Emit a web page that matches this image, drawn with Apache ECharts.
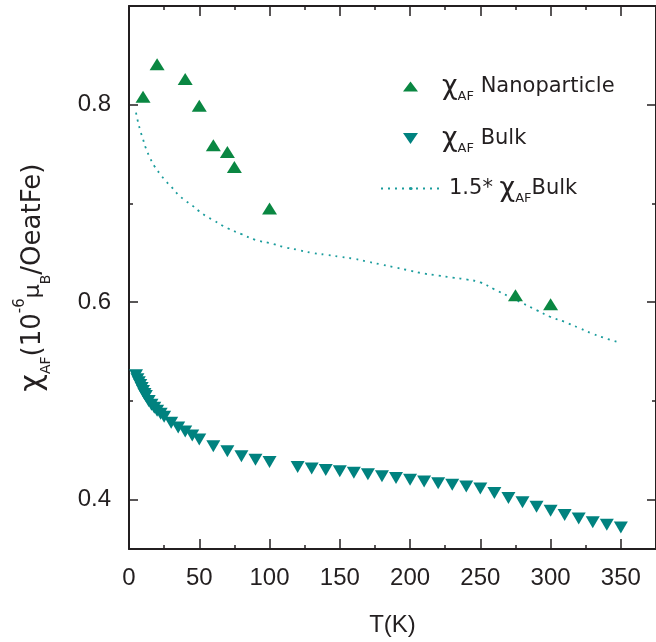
<!DOCTYPE html>
<html>
<head>
<meta charset="utf-8">
<script src="https://cdn.jsdelivr.net/npm/echarts@6/dist/echarts.min.js"></script>
<style>
    html, body { margin: 0; padding: 0; background: #fff; }
    #chiChart { width: 656px; height: 642px; }
</style>
</head>
<body>
<div id="chiChart"></div>
<script>
// 纳米颗粒 χAF
var nanoT = [10, 20, 40, 50, 60, 70, 75, 100, 275, 300];
var nanoChi = [0.808, 0.841, 0.826, 0.799, 0.759, 0.752, 0.737, 0.695, 0.607, 0.598];

// 块体 χAF
var bulkT = [5, 6, 7, 8, 9, 10, 11, 12, 14, 16, 18, 20, 22.5, 25, 30, 35, 40, 45, 50,
    60, 70, 80, 90, 100, 120, 130, 140, 150, 160, 170, 180, 190, 200, 210, 220, 230,
    240, 250, 260, 270, 280, 290, 300, 310, 320, 330, 340, 350];
var bulkChi = [0.526, 0.522, 0.519, 0.516, 0.513, 0.510, 0.507, 0.505, 0.500, 0.496, 0.493, 0.490, 0.487, 0.484, 0.478, 0.473, 0.469, 0.465, 0.461,
    0.454, 0.449, 0.444, 0.4405, 0.438, 0.433, 0.4315, 0.430, 0.4287, 0.4272, 0.4256, 0.4237, 0.422, 0.4202, 0.4183, 0.4166, 0.415,
    0.4133, 0.4114, 0.4068, 0.4017, 0.3973, 0.3929, 0.3887, 0.3845, 0.3808, 0.3771, 0.3745, 0.3717];

// 1.5* 块体 (虚线)
var scaledT = [5, 6, 8, 10, 12, 15, 18, 22, 26, 30, 35, 40, 45, 50, 55, 60, 70, 80, 90, 100,
    110, 120, 130, 140, 150, 160, 170, 180, 190, 200, 210, 220, 230, 240, 250, 260, 270,
    280, 290, 300, 310, 320, 330, 340, 350];
var scaledChi = [0.792, 0.785, 0.774, 0.765, 0.756, 0.746, 0.738, 0.730, 0.723, 0.717, 0.709, 0.703, 0.698, 0.692, 0.687, 0.683, 0.675, 0.669, 0.663, 0.660,
    0.656, 0.653, 0.650, 0.648, 0.646, 0.644, 0.641, 0.638, 0.635, 0.632, 0.629, 0.627, 0.625, 0.623, 0.620, 0.613, 0.606,
    0.599, 0.592, 0.585, 0.580, 0.574, 0.568, 0.563, 0.559];

// 刻度
var xMajorTicks = [0, 50, 100, 150, 200, 250, 300, 350];
var xMinorTicks = [25, 75, 125, 175, 225, 275, 325];
var yMajorTicks = [0.4, 0.6, 0.8];
var yMinorTicks = [0.5, 0.7];

var fontName = 'Liberation Sans, Arial, sans-serif';
var wideFont = 'DejaVu Sans, sans-serif';
var inkColor = '#231f20';

function zip(xs, ys) {
    var out = [];
    for (var i = 0; i < xs.length; i++) {
        out.push([xs[i], ys[i]]);
    }
    return out;
}

/**
 * 坐标轴 (主/次刻度分开画)
 */
function makeAxis(pos, minV, maxV, ticks, tickLen, withLabel, withLine) {
    return {
        type: 'value',
        position: pos,
        min: minV,
        max: maxV,
        axisLine: {
            show: withLine,
            onZero: false,
            lineStyle: { color: inkColor, width: 2 }
        },
        axisTick: {
            show: true,
            inside: true,
            length: tickLen,
            customValues: ticks,
            lineStyle: { color: inkColor, width: 1.5 }
        },
        axisLabel: {
            show: withLabel,
            customValues: ticks,
            color: inkColor,
            fontFamily: fontName,
            fontSize: 24
        },
        splitLine: { show: false }
    };
}

var chiChart = echarts.init(document.getElementById('chiChart'));

var xBottom = makeAxis('bottom', 0, 375, xMajorTicks, 10, true, true);
xBottom.axisLabel.margin = 17;
xBottom.axisLabel.formatter = function (v) { return String(v); };
xBottom.name = 'T(K)';
xBottom.nameLocation = 'middle';
xBottom.nameGap = 64;
xBottom.nameTextStyle = { color: inkColor, fontFamily: fontName, fontSize: 24 };

var yLeft = makeAxis('left', 0.35, 0.9, yMajorTicks, 9, true, true);
yLeft.axisLabel.margin = 18;
yLeft.axisLabel.formatter = function (v) { return v.toFixed(1); };
yLeft.name = '{c|χ}{s|AF}{m|(10}{p|-6}{u|μ}{s|B}{m|/OeatFe)}';
yLeft.nameLocation = 'middle';
yLeft.nameRotate = 90;
yLeft.nameGap = 76;
yLeft.nameTextStyle = {
    color: inkColor,
    fontFamily: wideFont,
    rich: {
        c: { fontSize: 30, fontFamily: wideFont, color: inkColor, lineHeight: 40 },
        m: { fontSize: 26, fontFamily: wideFont, color: inkColor, lineHeight: 40 },
        u: { fontSize: 22, fontFamily: wideFont, color: inkColor, lineHeight: 40 },
        s: { fontSize: 14, fontFamily: wideFont, color: inkColor, lineHeight: 14, verticalAlign: 'bottom' },
        p: { fontSize: 15, fontFamily: wideFont, color: inkColor, lineHeight: 15, verticalAlign: 'top' }
    }
};

var legendRich = {
    m: { fontSize: 21, fontFamily: wideFont, color: inkColor, lineHeight: 34 },
    c: { fontSize: 27, fontFamily: wideFont, color: inkColor, lineHeight: 34 },
    s: { fontSize: 13, fontFamily: wideFont, color: inkColor, lineHeight: 13, verticalAlign: 'bottom' }
};
var legendText = {
    nano: '{c|χ}{s|AF}{m| Nanoparticle}',
    bulk: '{c|χ}{s|AF}{m| Bulk}',
    scaled: '{m|1.5* }{c|χ}{s|AF}{m|Bulk}'
};

function makeLegend(name, left, top, w, h, textPad) {
    return {
        data: [name],
        left: left,
        top: top,
        padding: 0,
        itemWidth: w,
        itemHeight: h,
        symbolKeepAspect: false,
        selectedMode: false,
        formatter: function (n) { return legendText[n]; },
        textStyle: { padding: [0, 0, 0, textPad], rich: legendRich }
    };
}

var chiOption = {
    backgroundColor: '#fff',
    animation: false,
    grid: { left: 129, right: -3, top: 6, bottom: 90 },
    legend: [
        makeLegend('nano', 403, 73, 15, 10, 19),
        makeLegend('bulk', 403, 125, 15, 11, 19),
        makeLegend('scaled', 380, 175, 60, 4, 3)
    ],
    xAxis: [
        xBottom,
        makeAxis('bottom', 0, 375, xMinorTicks, 4, false, false),
        makeAxis('top', 0, 375, xMajorTicks, 10, false, true),
        makeAxis('top', 0, 375, xMinorTicks, 4, false, false)
    ],
    yAxis: [
        yLeft,
        makeAxis('left', 0.35, 0.9, yMinorTicks, 4, false, false),
        makeAxis('right', 0.35, 0.9, yMajorTicks, 9, false, true),
        makeAxis('right', 0.35, 0.9, yMinorTicks, 4, false, false)
    ],
    series: [
        {
            name: 'scaled',
            type: 'line',
            data: zip(scaledT, scaledChi),
            symbol: 'none',
            smooth: true,
            lineStyle: { color: '#1a9c9c', width: 1.8, type: [2, 5] },
            itemStyle: { color: '#1a9c9c' },
            z: 2
        },
        {
            name: 'bulk',
            type: 'scatter',
            data: zip(bulkT, bulkChi),
            symbol: 'path://M0,0L14,0L7,12Z',
            symbolSize: [14, 12],
            itemStyle: { color: '#00827f', opacity: 1 },
            z: 3
        },
        {
            name: 'nano',
            type: 'scatter',
            data: zip(nanoT, nanoChi),
            symbol: 'triangle',
            symbolSize: [15, 12],
            itemStyle: { color: '#0a8742', opacity: 1 },
            z: 4
        }
    ]
};
chiChart.setOption(chiOption);
</script>
</body>
</html>
